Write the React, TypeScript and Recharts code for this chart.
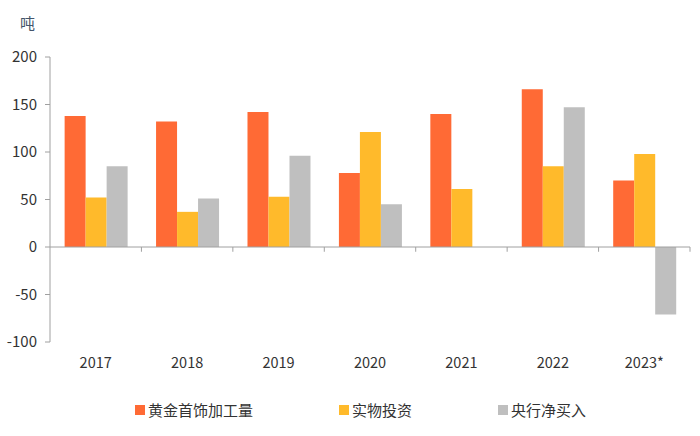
import { BarChart, Bar, XAxis, YAxis, Legend, ReferenceLine } from "recharts";

// #region Sample data
const years = ["2017", "2018", "2019", "2020", "2021", "2022", "2023*"];
const jewelry = [138, 132, 142, 78, 140, 166, 70];
const investment = [52, 37, 53, 121, 61, 85, 98];
const centralBank: (number | null)[] = [85, 51, 96, 45, null, 147, -71];
const yTicks = [-100, -50, 0, 50, 100, 150, 200];
// #endregion

const series = [
    { key: "jewelry", name: "黄金首饰加工量", fill: "#FF6A35" },
    { key: "investment", name: "实物投资", fill: "#FFBA2B" },
    { key: "centralBank", name: "央行净买入", fill: "#BFBFBF" },
];

const data = years.map((year, i) => ({
    year,
    jewelry: jewelry[i],
    investment: investment[i],
    centralBank: centralBank[i],
}));

const FONT = '"Noto Sans CJK SC", "Noto Sans", sans-serif';
const AXIS = "#A0A0A0";

const LegendContent = () => (
    <div style={{ display: "flex", paddingLeft: 135, gap: 86, fontFamily: FONT, fontSize: 15, color: "#333" }}>
        {series.map((s) => (
            <div key={s.key} style={{ display: "flex", alignItems: "center" }}>
                <span style={{ width: 10, height: 10, background: s.fill, marginRight: 3, display: "inline-block" }} />
                <span style={{ lineHeight: "20px" }}>{s.name}</span>
            </div>
        ))}
    </div>
);

export default function App() {
    return (
        <div style={{ position: "absolute", left: 0, top: 0, width: 700, height: 436, background: "#fff" }}>
            <div style={{ position: "absolute", left: 20, top: 12, fontFamily: FONT, fontSize: 15, color: "#44546A" }}>
                吨
            </div>
            <BarChart
                width={700}
                height={436}
                data={data}
                margin={{ top: 57, right: 10, left: 0, bottom: 24 }}
                barCategoryGap="16%"
                barGap={0}
            >
                <YAxis
                    width={50}
                    domain={[-100, 200]}
                    ticks={yTicks}
                    interval={0}
                    stroke={AXIS}
                    tickSize={5}
                    tickMargin={8}
                    tick={{ fill: "#333", fontSize: 15, fontFamily: FONT }}
                />
                <XAxis
                    dataKey="year"
                    height={30}
                    axisLine={false}
                    tickLine={false}
                    tickSize={0}
                    tickMargin={16}
                    tick={{ fill: "#333", fontSize: 14.5, fontFamily: FONT }}
                />
                <ReferenceLine y={0} stroke={AXIS} />
                {years.map((y) => (
                    <ReferenceLine
                        key={y}
                        position="end"
                        segment={[
                            { x: y, y: 0 },
                            { x: y, y: -5 },
                        ]}
                        stroke={AXIS}
                    />
                ))}
                {series.map((s) => (
                    <Bar key={s.key} dataKey={s.key} name={s.name} fill={s.fill} isAnimationActive={false} />
                ))}
                <Legend
                    height={40}
                    content={<LegendContent />}
                    wrapperStyle={{ left: 0, width: 700, top: 400, bottom: "auto" }}
                />
            </BarChart>
        </div>
    );
}
